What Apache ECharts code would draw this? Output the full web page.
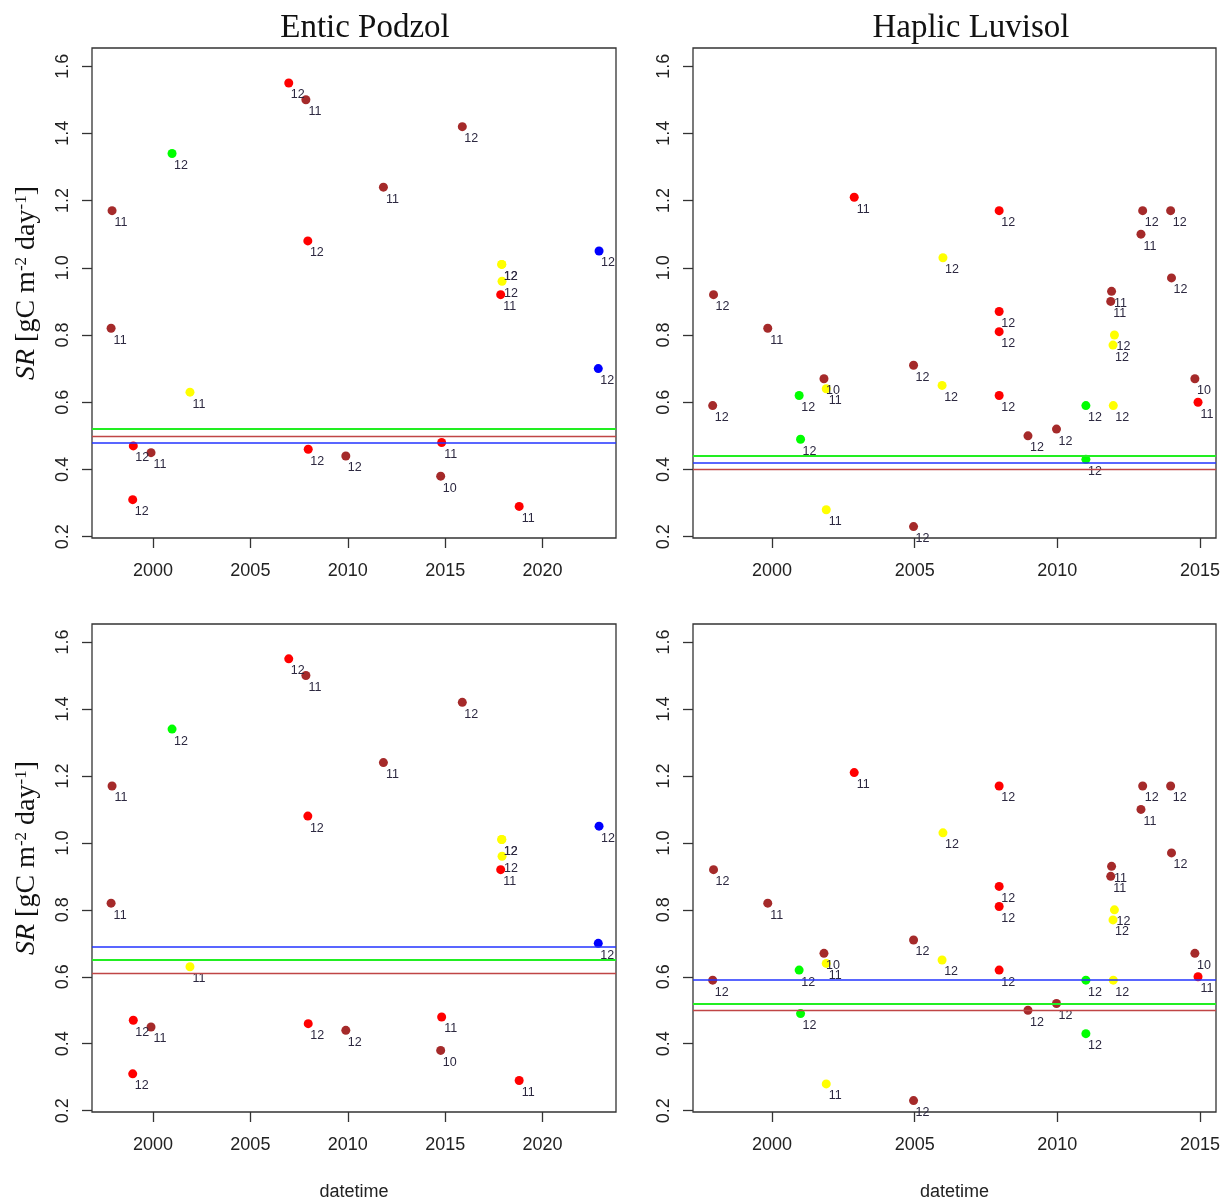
<!DOCTYPE html>
<html>
<head>
<meta charset="utf-8">
<script src="https://cdn.jsdelivr.net/npm/echarts@6/dist/echarts.min.js"></script>
<style>
html,body{margin:0;padding:0;background:#fff;}
#chart{width:1226px;height:1202px;}
</style>
</head>
<body>
<div id="chart"></div>
<script>
// ---------------- data ----------------
const panelTitles = ['Entic Podzol', 'Haplic Luvisol'];
const xAxisName = 'datetime';
const xTicksPodzol = [2000, 2005, 2010, 2015, 2020];
const xTicksLuvisol = [2000, 2005, 2010, 2015];
const yTicks = [0.2, 0.4, 0.6, 0.8, 1.0, 1.2, 1.4, 1.6];

// points: [decimal year, SR, month label]
const podzolBrown = [[1997.90, 1.17, 11], [1997.85, 0.82, 11], [2007.85, 1.50, 11], [2011.83, 1.24, 11],
  [2015.88, 1.42, 12], [1999.90, 0.45, 11], [2009.90, 0.44, 12], [2014.77, 0.38, 10]];
const podzolRed = [[2006.97, 1.55, 12], [2007.95, 1.08, 12], [2017.85, 0.92, 11], [1998.99, 0.47, 12],
  [1998.96, 0.31, 12], [2007.97, 0.46, 12], [2014.82, 0.48, 11], [2018.80, 0.29, 11]];
const podzolYellow = [[2017.90, 1.01, 12], [2017.91, 1.01, 12], [2017.92, 0.96, 12], [2001.90, 0.63, 11]];
const podzolGreen = [[2000.98, 1.34, 12]];
const podzolBlue = [[2022.90, 1.05, 12], [2022.86, 0.70, 12]];

const luvisolBrown = [[1997.95, 0.92, 12], [1999.85, 0.82, 11], [2004.96, 0.71, 12], [2001.82, 0.67, 10],
  [2011.90, 0.93, 11], [2011.87, 0.90, 11], [2012.99, 1.17, 12], [2013.97, 1.17, 12], [2012.93, 1.10, 11],
  [2014.00, 0.97, 12], [2014.82, 0.67, 10], [1997.92, 0.59, 12], [2004.96, 0.23, 12], [2008.97, 0.50, 12],
  [2009.97, 0.52, 12]];
const luvisolRed = [[2002.88, 1.21, 11], [2007.96, 1.17, 12], [2007.96, 0.87, 12], [2007.96, 0.81, 12],
  [2007.96, 0.62, 12], [2014.93, 0.60, 11]];
const luvisolYellow = [[2005.99, 1.03, 12], [2001.90, 0.64, 11], [2005.96, 0.65, 12], [2012.00, 0.80, 12],
  [2011.95, 0.77, 12], [2001.90, 0.28, 11], [2011.96, 0.59, 12]];
const luvisolGreen = [[2000.95, 0.62, 12], [2001.00, 0.49, 12], [2011.00, 0.59, 12], [2011.00, 0.43, 12]];
const luvisolBlue = [];

// reference lines [green, blue, brown]
const podzolTopLines = [0.520, 0.483, 0.503];
const podzolBottomLines = [0.651, 0.688, 0.615];
const luvisolTopLines = [0.436, 0.420, 0.396];
const luvisolBottomLines = [0.523, 0.595, 0.500];

// ---------------- chart ----------------
const COL = { brown: '#A52A2A', red: '#FF0000', yellow: '#FFFF00', green: '#00FF00', blue: '#0000FF' };
const LINECOL = { green: '#22EE22', blue: '#2233FF', brown: '#C04545' };

const panels = [
  { grid: { left: 92, top: 48, width: 524, height: 490 }, x: [1996.87, 2023.77], ticks: xTicksPodzol,
    groups: { brown: podzolBrown, red: podzolRed, yellow: podzolYellow, green: podzolGreen, blue: podzolBlue },
    lines: podzolTopLines, xname: false },
  { grid: { left: 693, top: 48, width: 523, height: 490 }, x: [1997.23, 2015.56], ticks: xTicksLuvisol,
    groups: { brown: luvisolBrown, red: luvisolRed, yellow: luvisolYellow, green: luvisolGreen, blue: luvisolBlue },
    lines: luvisolTopLines, xname: false },
  { grid: { left: 92, top: 624, width: 524, height: 490 }, x: [1996.87, 2023.77], ticks: xTicksPodzol,
    groups: { brown: podzolBrown, red: podzolRed, yellow: podzolYellow, green: podzolGreen, blue: podzolBlue },
    lines: podzolBottomLines, xname: true },
  { grid: { left: 693, top: 624, width: 523, height: 490 }, x: [1997.23, 2015.56], ticks: xTicksLuvisol,
    groups: { brown: luvisolBrown, red: luvisolRed, yellow: luvisolYellow, green: luvisolGreen, blue: luvisolBlue },
    lines: luvisolBottomLines, xname: true }
];

const grids = [], xAxes = [], yAxes = [], series = [];
panels.forEach((p, i) => {
  grids.push(Object.assign({ show: true, borderColor: '#333', borderWidth: 1.3, backgroundColor: 'transparent' }, p.grid));
  xAxes.push({
    type: 'value', gridIndex: i, min: p.x[0], max: p.x[1],
    splitLine: { show: false }, axisLine: { show: false },
    axisTick: { show: true, inside: false, length: 10, customValues: p.ticks, lineStyle: { color: '#333', width: 1.3 } },
    axisLabel: { show: true, customValues: p.ticks, margin: 24, fontFamily: 'Liberation Sans', fontSize: 18, color: '#222',
      formatter: v => String(Math.round(v)) },
    name: p.xname ? xAxisName : '', nameLocation: 'middle', nameGap: 71,
    nameTextStyle: { fontFamily: 'Liberation Sans', fontSize: 18, color: '#222' }
  });
  yAxes.push({
    type: 'value', gridIndex: i, min: 0.196, max: 1.654,
    splitLine: { show: false }, axisLine: { show: false },
    axisTick: { show: true, inside: false, length: 10, customValues: yTicks, lineStyle: { color: '#333', width: 1.3 } },
    axisLabel: { show: true, customValues: yTicks, rotate: 90, margin: 20, fontFamily: 'Liberation Sans', fontSize: 18, color: '#222',
      formatter: v => v.toFixed(1) }
  });
  let first = true;
  Object.keys(p.groups).forEach(g => {
    const s = {
      type: 'scatter', xAxisIndex: i, yAxisIndex: i, name: g,
      data: p.groups[g], symbol: 'circle', symbolSize: 9,
      itemStyle: { color: COL[g], opacity: 1 },
      label: { show: true, position: ['50%', '50%'], align: 'center', verticalAlign: 'middle', offset: [9, 12],
        formatter: d => String(d.value[2]), fontFamily: 'Liberation Sans', fontSize: 12.5, color: '#2c2840' },
      emphasis: { disabled: true }, z: 3
    };
    if (first) {
      s.markLine = {
        silent: true, symbol: 'none', label: { show: false }, animation: false, z: 4,
        data: [
          { yAxis: p.lines[0], lineStyle: { color: LINECOL.green, width: 2, type: 'solid' } },
          { yAxis: p.lines[1], lineStyle: { color: LINECOL.blue, width: 1.6, type: 'solid' } },
          { yAxis: p.lines[2], lineStyle: { color: LINECOL.brown, width: 1.4, type: 'solid' } }
        ]
      };
      first = false;
    }
    series.push(s);
  });
});

const yLabelRich = {
  i: { fontFamily: 'Liberation Serif', fontStyle: 'italic', fontSize: 28, color: '#111' },
  n: { fontFamily: 'Liberation Serif', fontSize: 28, color: '#111' },
  s: { fontFamily: 'Liberation Serif', fontSize: 17, color: '#111', verticalAlign: 'top' }
};
const yLabelText = '{i|SR}{n| [gC m}{s|-2}{n| day}{s|-1}{n|]}';

const option = {
  backgroundColor: '#ffffff',
  animation: false,
  grid: grids, xAxis: xAxes, yAxis: yAxes, series: series,
  graphic: [
    { type: 'text', position: [365, 28], style: { text: panelTitles[0], font: '33px "Liberation Serif"', fill: '#111', textAlign: 'center', textVerticalAlign: 'middle', align: 'center', verticalAlign: 'middle' } },
    { type: 'text', position: [971, 28], style: { text: panelTitles[1], font: '33px "Liberation Serif"', fill: '#111', textAlign: 'center', textVerticalAlign: 'middle', align: 'center', verticalAlign: 'middle' } },
    { type: 'text', position: [27, 283], rotation: Math.PI / 2, style: { text: yLabelText, rich: yLabelRich, fill: '#111', textAlign: 'center', textVerticalAlign: 'middle', align: 'center', verticalAlign: 'middle' } },
    { type: 'text', position: [27, 858], rotation: Math.PI / 2, style: { text: yLabelText, rich: yLabelRich, fill: '#111', textAlign: 'center', textVerticalAlign: 'middle', align: 'center', verticalAlign: 'middle' } }
  ]
};

const chart = echarts.init(document.getElementById('chart'), null, { renderer: 'canvas' });
chart.setOption(option);
</script>
</body>
</html>
